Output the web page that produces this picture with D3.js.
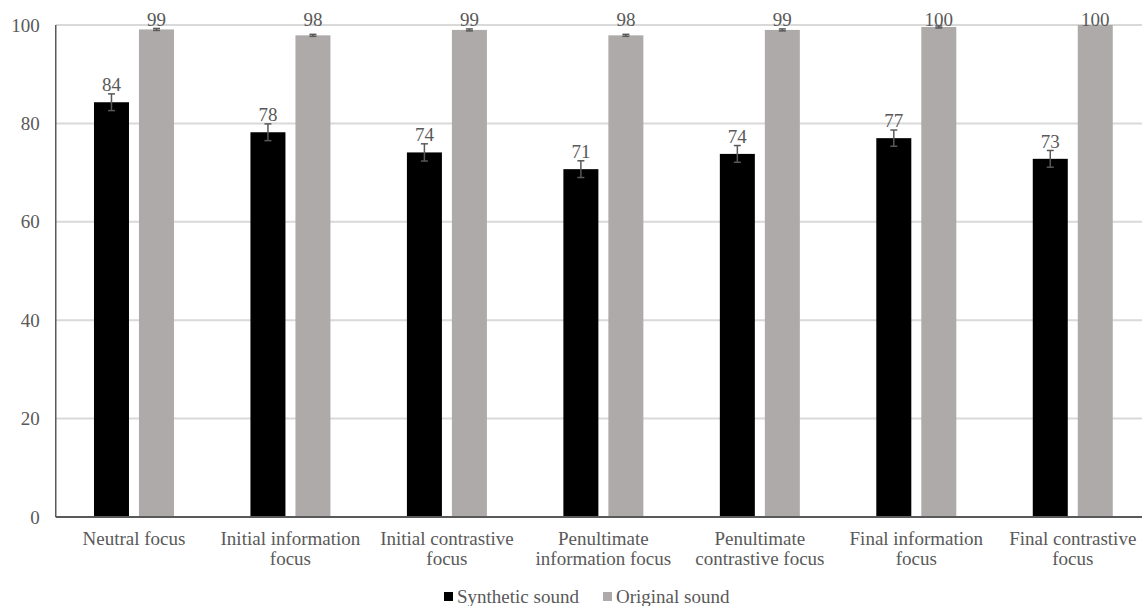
<!DOCTYPE html>
<html><head><meta charset="utf-8">
<script src="https://cdn.jsdelivr.net/npm/d3@7"></script>
<style>body{margin:0;background:#fff}svg{display:block}text{font-family:"Liberation Serif","Times New Roman",serif;fill:#595959}</style>
</head><body><svg id="c" width="1142" height="606"></svg>
<script>
const categories = [["Neutral focus"],["Initial information","focus"],["Initial contrastive","focus"],["Penultimate","information focus"],["Penultimate","contrastive focus"],["Final information","focus"],["Final contrastive","focus"]];
const seriesNames = ["Synthetic sound","Original sound"];
const synthetic = [84.3, 78.2, 74.1, 70.7, 73.8, 77.0, 72.8];
const syntheticErr = [1.7, 1.7, 1.75, 1.7, 1.7, 1.65, 1.7];
const original = [99.1, 97.9, 99.0, 97.9, 99.0, 99.6, 100];
const originalErr = [0.2, 0.2, 0.2, 0.2, 0.2, 0.2, 0.0];
const synthLabels = ["84","78","74","71","74","77","73"];
const origLabels = ["99","98","99","98","99","100","100"];
const yTicks = [0,20,40,60,80,100];
const colors = ["#000000","#aeaaaa"];

(function(){
const svg = d3.select("#c");
const mLeft = 55.75, mRight = 1151, mTop = 25, mBottom = 517;
const x = d3.scaleBand().domain(d3.range(categories.length)).range([mLeft, mRight]).paddingInner(0).paddingOuter(0);
const y = d3.scaleLinear().domain([0,100]).range([mBottom, mTop]);
const barW = 35, gap = 10;

svg.append("g").selectAll("line").data(yTicks.filter(d=>d>0)).join("line")
  .attr("x1", mLeft).attr("x2", 1142).attr("y1", d=>y(d)).attr("y2", d=>y(d))
  .attr("stroke", "#d9d9d9").attr("stroke-width", 2);

const yAxis = d3.axisLeft(y).tickValues(yTicks).tickSize(0).tickPadding(16);
const ya = svg.append("g").attr("transform", `translate(${mLeft},0)`).call(yAxis);
ya.attr("font-family", null).attr("font-size", null);
ya.select(".domain").remove();
ya.selectAll("text").style("font-size","19px").attr("fill","#595959");

const series = [
  {vals: synthetic, err: syntheticErr, labels: synthLabels, off: -(barW+gap)/2},
  {vals: original, err: originalErr, labels: origLabels, off: (barW+gap)/2}
];
series.forEach((s, si) => {
  const g = svg.append("g");
  const cx = i => x(i) + x.bandwidth()/2 + s.off;
  g.selectAll("rect").data(s.vals).join("rect")
    .attr("x", (d,i)=>cx(i)-barW/2).attr("width", barW)
    .attr("y", d=>y(d)).attr("height", d=>y(0)-y(d)).attr("fill", colors[si]);
  const eg = g.append("g").attr("stroke","#595959").attr("stroke-width",1.5);
  s.vals.forEach((v,i)=>{
    const e = s.err[i]; if (e<=0) return;
    const c = cx(i);
    eg.append("line").attr("x1",c).attr("x2",c).attr("y1",y(v+e)).attr("y2",y(v-e));
    eg.append("line").attr("x1",c-3.5).attr("x2",c+3.5).attr("y1",y(v+e)).attr("y2",y(v+e));
    eg.append("line").attr("x1",c-3.5).attr("x2",c+3.5).attr("y1",y(v-e)).attr("y2",y(v-e));
  });
  g.selectAll("text.lab").data(s.vals).join("text").attr("class","lab")
    .attr("x",(d,i)=>cx(i)).attr("y", d=>Math.max(y(d)-11, mTop+1))
    .attr("text-anchor","middle").style("font-size","19px").text((d,i)=>s.labels[i]);
});

svg.append("line").attr("x1",mLeft).attr("x2",1142).attr("y1",mBottom).attr("y2",mBottom).attr("stroke","#595959").attr("stroke-width",2);
svg.append("line").attr("x1",mLeft).attr("x2",mLeft).attr("y1",mTop).attr("y2",mBottom).attr("stroke","#595959").attr("stroke-width",1.5);

const cg = svg.append("g");
categories.forEach((lines,i)=>{
  const cxm = x(i)+x.bandwidth()/2;
  const t = cg.append("text").attr("x", cxm).attr("y", 545).attr("text-anchor","middle").style("font-size","19px");
  lines.forEach((ln,j)=> t.append("tspan").attr("x", cxm).attr("dy", j===0?0:20).text(ln));
});

const lg = svg.append("g");
const legX = [444, 603];
seriesNames.forEach((n,i)=>{
  lg.append("rect").attr("x",legX[i]).attr("y",592).attr("width",9).attr("height",9).attr("fill",colors[i]);
  lg.append("text").attr("x",legX[i]+13).attr("y",603).style("font-size","19px").text(n);
});
})();
</script></body></html>
